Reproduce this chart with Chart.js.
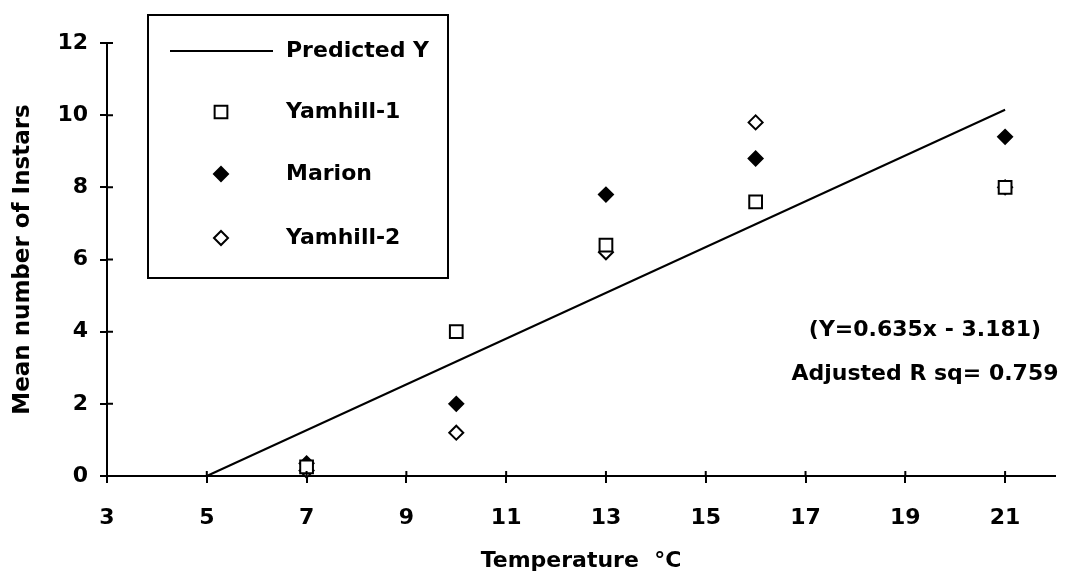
<!DOCTYPE html>
<html>
<head>
<meta charset="utf-8">
<script src="https://cdn.jsdelivr.net/npm/chart.js@4/dist/chart.umd.min.js"></script>
<style>
  html, body { margin: 0; padding: 0; background: #fff; }
  #wrap { width: 1070px; height: 575px; }
</style>
</head>
<body>
<div id="wrap"><canvas id="chart-instars" width="1070" height="575"></canvas></div>
<script>
// ---------- data ----------
const temps = [7, 10, 13, 16, 21];
const yamhill1 = [0.25, 4.0, 6.4, 7.6, 8.0];
const marion = [0.35, 2.0, 7.8, 8.8, 9.4];
const yamhill2 = [0.15, 1.2, 6.2, 9.8, 8.0];
const predX = [5, 21];
const predY = [0, 10.15];
const xTicks = [3, 5, 7, 9, 11, 13, 15, 17, 19, 21];
const yTicks = [0, 2, 4, 6, 8, 10, 12];
const noteLines = ['(Y=0.635x - 3.181)', 'Adjusted R sq= 0.759'];

const FONT = 'DejaVu Sans';
const pts = (xs, ys) => xs.map((x, i) => ({ x, y: ys[i] }));

// ticks crossing the axis lines (inner half)
const innerTicks = {
    id: 'innerTicks',
    afterDraw(chart) {
        const { ctx, chartArea: a, scales: { x, y } } = chart;
        ctx.save();
        ctx.strokeStyle = '#000';
        ctx.lineWidth = 2;
        ctx.beginPath();
        x.ticks.forEach(t => {
            const px = x.getPixelForValue(t.value);
            ctx.moveTo(px, a.bottom);
            ctx.lineTo(px, a.bottom - 5);
        });
        y.ticks.forEach(t => {
            const py = y.getPixelForValue(t.value);
            ctx.moveTo(a.left, py);
            ctx.lineTo(a.left + 6, py);
        });
        ctx.stroke();
        ctx.restore();
    }
};

// boxed legend in the upper left + regression note
const boxLegend = {
    id: 'boxLegend',
    afterDraw(chart) {
        const ctx = chart.ctx;
        ctx.save();
        ctx.strokeStyle = '#000';
        ctx.lineWidth = 2;
        ctx.strokeRect(148, 15, 300, 263);

        const rows = [51, 112, 174, 238];
        ctx.font = `bold 22px "${FONT}"`;
        ctx.textBaseline = 'middle';
        ctx.textAlign = 'left';
        chart.data.datasets.forEach((ds, i) => {
            const yy = rows[i];
            if (ds.showLine) {
                ctx.beginPath();
                ctx.lineWidth = ds.borderWidth;
                ctx.strokeStyle = ds.borderColor;
                ctx.moveTo(170, yy);
                ctx.lineTo(273, yy);
                ctx.stroke();
            } else {
                ctx.fillStyle = ds.pointBackgroundColor;
                ctx.strokeStyle = ds.pointBorderColor;
                ctx.lineWidth = ds.pointBorderWidth;
                Chart.helpers.drawPoint(ctx, {
                    pointStyle: ds.pointStyle, radius: ds.pointRadius,
                    borderWidth: ds.pointBorderWidth, rotation: 0
                }, 221, yy);
            }
            ctx.fillStyle = '#000';
            ctx.fillText(ds.label, 286, yy);
        });

        ctx.font = `bold 22px "${FONT}"`;
        ctx.textAlign = 'center';
        noteLines.forEach((s, i) => ctx.fillText(s, 925, 330 + i * 44));
        ctx.restore();
    }
};

const markerSet = (style, fill, r) => ({
    pointStyle: style,
    pointRadius: r,
    pointHoverRadius: r,
    pointBackgroundColor: fill,
    pointBorderColor: '#000',
    pointBorderWidth: 2,
    showLine: false
});

const ctx = document.getElementById('chart-instars').getContext('2d');
new Chart(ctx, {
    type: 'scatter',
    data: {
        datasets: [
            {
                label: 'Predicted Y', data: pts(predX, predY), showLine: true,
                borderColor: '#000', borderWidth: 2, pointRadius: 0, clip: false
            },
            { label: 'Yamhill-1', data: pts(temps, yamhill1), clip: false, ...markerSet('rect', '#fff', 9) },
            { label: 'Marion', data: pts(temps, marion), clip: false, ...markerSet('rectRot', '#000', 7) },
            { label: 'Yamhill-2', data: pts(temps, yamhill2), clip: false, ...markerSet('rectRot', '#fff', 7) }
        ]
    },
    options: {
        responsive: false,
        animation: false,
        layout: { padding: { top: 43, right: 15, bottom: 0, left: 0 } },
        plugins: { legend: { display: false }, tooltip: { enabled: false } },
        scales: {
            x: {
                type: 'linear', min: 3, max: 22,
                afterBuildTicks: s => { s.ticks = xTicks.map(v => ({ value: v })); },
                afterFit: s => { s.height = 99; },
                grid: { drawOnChartArea: false, color: '#000', lineWidth: 2, tickLength: 7 },
                border: { color: '#000', width: 2 },
                ticks: { color: '#000', padding: 22, font: { family: FONT, size: 22, weight: 'bold' } },
                title: {
                    display: true, text: 'Temperature  \u00B0C', color: '#000',
                    padding: { top: 0, bottom: 1 },
                    font: { family: FONT, size: 22, weight: 'bold' }
                }
            },
            y: {
                type: 'linear', min: 0, max: 12,
                afterBuildTicks: s => { s.ticks = yTicks.map(v => ({ value: v })); },
                afterFit: s => { s.width = 107; },
                grid: { drawOnChartArea: false, color: '#000', lineWidth: 2, tickLength: 7 },
                border: { color: '#000', width: 2 },
                ticks: { color: '#000', padding: 12, font: { family: FONT, size: 22, weight: 'bold' } },
                title: {
                    display: true, text: 'Mean number of Instars', color: '#000',
                    padding: { top: 9, bottom: 0 },
                    font: { family: FONT, size: 23, weight: 'bold' }
                }
            }
        }
    },
    plugins: [innerTicks, boxLegend]
});
</script>
</body>
</html>
